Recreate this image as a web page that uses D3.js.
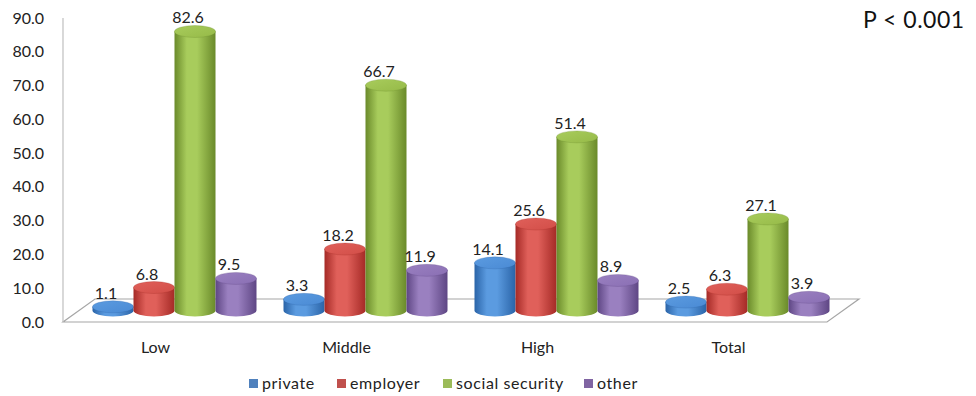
<!DOCTYPE html>
<html>
<head>
<meta charset="utf-8">
<script src="https://cdn.jsdelivr.net/npm/d3@7"></script>
<style>
  html, body { margin: 0; padding: 0; background: #fff; }
  svg { display: block; font-family: Lato, "Open Sans", "DejaVu Sans", sans-serif; }
</style>
</head>
<body>
<svg id="chart" width="976" height="396"></svg>
<script>
// Coverage by income group (%)
const categories = ["Low", "Middle", "High", "Total"];
const seriesNames = ["private", "employer", "social security", "other"];
const privateVals = [1.1, 3.3, 14.1, 2.5];
const employerVals = [6.8, 18.2, 25.6, 6.3];
const socialVals = [82.6, 66.7, 51.4, 27.1];
const otherVals = [9.5, 11.9, 8.9, 3.9];
const yTicks = [0, 10, 20, 30, 40, 50, 60, 70, 80, 90];
const note = "P < 0.001";

const seriesValues = [privateVals, employerVals, socialVals, otherVals];
const palette = [
  { dark: "#2a64a8", light: "#5b9be0", top: "#4a8ad4", legend: "#4f81bd" },
  { dark: "#a52a26", light: "#e0605a", top: "#d24e48", legend: "#c0504d" },
  { dark: "#6a8a2a", light: "#a8cc5c", top: "#96ba48", legend: "#9bbb59" },
  { dark: "#5e4684", light: "#9a80c0", top: "#8a6fb4", legend: "#8064a2" }
];

const svg = d3.select("#chart");
const defs = svg.append("defs");
palette.forEach((c, i) => {
  const g = defs.append("linearGradient").attr("id", "body" + i)
    .attr("x1", 0).attr("x2", 1).attr("y1", 0).attr("y2", 0);
  g.append("stop").attr("offset", "0%").attr("stop-color", c.dark);
  g.append("stop").attr("offset", "30%").attr("stop-color", c.light);
  g.append("stop").attr("offset", "55%").attr("stop-color", c.light);
  g.append("stop").attr("offset", "100%").attr("stop-color", c.dark);
  const t = defs.append("linearGradient").attr("id", "top" + i)
    .attr("x1", 0).attr("x2", 1).attr("y1", 0).attr("y2", 1);
  t.append("stop").attr("offset", "0%").attr("stop-color", c.light);
  t.append("stop").attr("offset", "100%").attr("stop-color", c.top);
});

// plot frame: floor front edge and depth offset of the 3D floor
const left = 63, right = 827, floorFront = 322;
const depthX = 32, depthY = -23;
const yTop = 18;

// value scale on the axis wall (front)
const yAxisScale = d3.scaleLinear().domain([0, 90]).range([floorFront, yTop]);
// bars stand in the middle of the floor depth
const barScale = d3.scaleLinear().domain([0, 90])
  .range([floorFront + depthY / 2, yTop + depthY / 2]);

const x0 = d3.scaleBand().domain(categories).range([left, right]).padding(0);
const x1 = d3.scaleBand().domain(seriesNames).range([-82, 82]).padding(0);

// floor
svg.append("path")
  .attr("d", `M${left},${floorFront} L${right},${floorFront} L${right + depthX},${floorFront + depthY} L${left + depthX},${floorFront + depthY} Z`)
  .attr("fill", "#fff").attr("stroke", "#a6a6a6").attr("stroke-width", 1.2);

// value axis
svg.append("line")
  .attr("x1", left).attr("x2", left)
  .attr("y1", yAxisScale(90)).attr("y2", floorFront)
  .attr("stroke", "#bfbfbf").attr("stroke-width", 1.2);

svg.append("g").selectAll("text").data(yTicks).join("text")
  .attr("x", 44).attr("y", d => yAxisScale(d))
  .attr("dy", "0.35em").attr("text-anchor", "end")
  .attr("font-size", 16).attr("fill", "#222")
  .text(d => d.toFixed(1));

// cylinders
const rx = 20.5, ry = 6;
const bars = [];
categories.forEach((cat, ci) => {
  seriesNames.forEach((s, si) => {
    bars.push({ cat, s, si, v: seriesValues[si][ci] });
  });
});

const gBars = svg.append("g");
bars.forEach(b => {
  const cx = x0(b.cat) + x0.bandwidth() / 2 + depthX / 2 + x1(b.s) + x1.bandwidth() / 2;
  const yb = barScale(0), yt = barScale(b.v);
  const g = gBars.append("g");
  g.append("path")
    .attr("d", `M${cx - rx},${yt} L${cx - rx},${yb} A${rx},${ry} 0 0 0 ${cx + rx},${yb} L${cx + rx},${yt} Z`)
    .attr("fill", `url(#body${b.si})`);
  g.append("ellipse")
    .attr("cx", cx).attr("cy", yt).attr("rx", rx).attr("ry", ry)
    .attr("fill", `url(#top${b.si})`)
    .attr("stroke", palette[b.si].dark).attr("stroke-opacity", 0.35).attr("stroke-width", 0.8);
  g.append("text")
    .attr("x", cx - 7).attr("y", yt - ry - 2)
    .attr("text-anchor", "middle").attr("font-size", 16).attr("fill", "#222")
    .text(b.v.toFixed(1));
});

// category labels
svg.append("g").selectAll("text").data(categories).join("text")
  .attr("x", d => x0(d) + x0.bandwidth() / 2 - 3)
  .attr("y", 353).attr("text-anchor", "middle")
  .attr("font-size", 16).attr("fill", "#222")
  .text(d => d);

// legend
const legendX = [249, 337, 443, 584];
const legend = svg.append("g");
seriesNames.forEach((s, i) => {
  legend.append("rect").attr("x", legendX[i]).attr("y", 379)
    .attr("width", 9).attr("height", 9).attr("fill", palette[i].legend);
  legend.append("text").attr("x", legendX[i] + 13).attr("y", 389)
    .attr("font-size", 16).attr("letter-spacing", 0.6).attr("fill", "#222").text(s);
});

// significance note
svg.append("text").attr("x", 863).attr("y", 28)
  .attr("font-size", 23).attr("letter-spacing", 0.5).attr("fill", "#111").text(note);
</script>
</body>
</html>
